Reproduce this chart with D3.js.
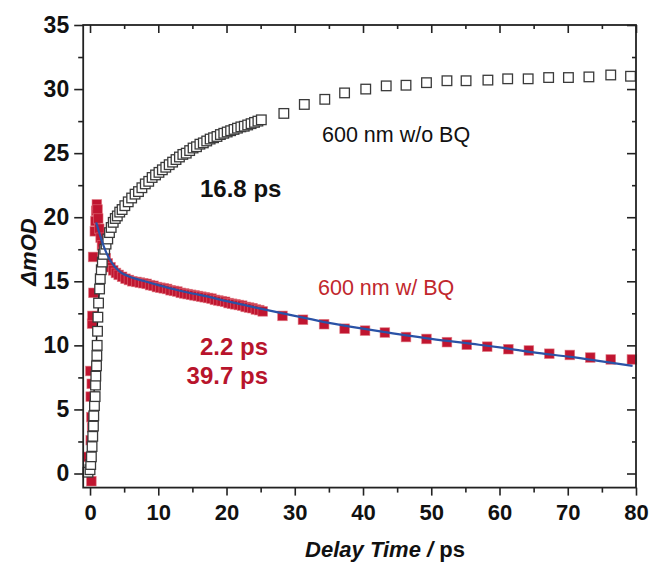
<!DOCTYPE html>
<html>
<head>
<meta charset="utf-8">
<script src="https://cdn.jsdelivr.net/npm/d3@7"></script>
<style>
  html, body { margin: 0; padding: 0; background: #fff; }
  svg { display: block; }
  text { font-family: "Liberation Sans", Arial, sans-serif; }
</style>
</head>
<body>
<svg id="chart" width="650" height="562"></svg>
<script>
// Transient absorption kinetics at 600 nm (ΔmOD vs delay time in ps)

// 600 nm without BQ (open squares)
const woBqTime = [
  -0.3, 0.0, 0.1, 0.2, 0.3, 0.4, 0.5, 0.55, 0.65, 0.75, 0.8, 0.85, 0.95, 1.0, 1.05, 1.1, 1.15,
  1.25, 1.4, 1.5, 1.65, 1.8, 1.95, 2.15, 2.35, 2.6, 2.85, 3.1, 3.4, 3.7, 4.0, 4.35, 4.7,
  5.1, 5.6, 6.1, 6.6, 7.1, 7.6, 8.1, 8.6, 9.1, 9.6, 10.1, 10.6, 11.1, 11.6, 12.1, 12.6,
  13.1, 13.6, 14.1, 14.6, 15.1, 15.6, 16.1, 16.6, 17.1, 17.6, 18.1, 18.6, 19.1, 19.6,
  20.1, 20.6, 21.1, 21.6, 22.1, 22.6, 23.1, 23.6, 24.1, 24.6, 25.1,
  28.4, 31.4, 34.4, 37.3, 40.4, 43.4, 46.3, 49.3, 52.3, 55.1, 58.3, 61.2, 64.2, 67.2,
  70.1, 73.1, 76.3, 79.2
];
const woBqDelta = [
  0.1, 0.3, 0.7, 1.3, 2.1, 2.9, 3.7, 4.5, 5.3, 6.0, 6.9, 7.6, 8.4, 9.2, 10.0, 11.1, 12.2,
  13.3, 14.4, 15.2, 15.9, 16.5, 17.1, 17.5, 17.9, 18.3, 18.8, 19.2, 19.6, 19.9, 20.1, 20.4, 20.6,
  20.9, 21.2, 21.5, 21.8, 22.0, 22.3, 22.6, 22.8, 23.1, 23.3, 23.5, 23.7, 23.9, 24.1, 24.3, 24.5,
  24.7, 24.9, 25.0, 25.2, 25.4, 25.5, 25.7, 25.8, 25.95, 26.1, 26.2, 26.3, 26.45, 26.55,
  26.65, 26.75, 26.85, 26.95, 27.05, 27.1, 27.2, 27.3, 27.4, 27.5, 27.6,
  28.1, 28.8, 29.2, 29.7, 30.0, 30.25, 30.3, 30.5, 30.65, 30.65, 30.7, 30.8, 30.8, 30.9,
  30.9, 30.95, 31.1, 31.0
];

// 600 nm with BQ (filled squares)
const wBqTime = [
  0.2, -0.3, 0.1, 0.3, 0.2, 0.1, 0.25, 0.05, 0.3, 0.35, 0.5, 0.45, 0.7, 0.8, 0.9, 1.0,
  1.1, 1.2, 1.35, 1.55, 1.75, 2.0, 2.3, 2.6, 3.0, 3.4, 3.8, 4.2, 4.7,
  5.2, 5.7, 6.2, 6.8, 7.3, 7.8, 8.3, 8.8, 9.3, 9.8, 10.3, 10.8, 11.3, 11.8, 12.3, 12.8,
  13.3, 13.8, 14.3, 14.8, 15.3, 15.8, 16.3, 16.8, 17.3, 17.8, 18.3, 18.8, 19.3, 19.8,
  20.3, 20.8, 21.3, 21.8, 22.3, 22.8, 23.3, 23.8, 24.3, 24.8, 25.3,
  28.2, 31.2, 34.3, 37.3, 40.3, 43.2, 46.3, 49.3, 52.3, 55.2, 58.2, 61.3, 64.3, 67.3,
  70.3, 73.3, 76.3, 79.4
];
const wBqDelta = [
  -0.6, 1.3, 2.6, 3.6, 4.4, 6.0, 7.0, 8.0, 11.7, 12.3, 14.1, 16.9, 18.9, 19.7, 20.5, 21.0,
  20.6, 19.9, 19.1, 18.4, 17.8, 17.3, 16.8, 16.4, 16.1, 15.85, 15.65, 15.5, 15.35,
  15.2, 15.1, 15.0, 14.95, 14.9, 14.85, 14.8, 14.7, 14.65, 14.55, 14.5, 14.45, 14.4, 14.3, 14.25, 14.2,
  14.1, 14.05, 14.0, 13.95, 13.9, 13.85, 13.8, 13.75, 13.7, 13.65, 13.55, 13.5, 13.45, 13.4,
  13.3, 13.25, 13.2, 13.15, 13.1, 13.0, 12.95, 12.9, 12.8, 12.75, 12.65,
  12.3, 12.0, 11.65, 11.3, 11.15, 11.0, 10.65, 10.5, 10.25, 10.05, 9.9, 9.7, 9.6, 9.35,
  9.25, 9.05, 8.9, 8.9
];

// Fitted curves
const fitWoBqTime  = [-1.0, -0.5, -0.2, 0.1, 0.4, 0.7, 1.0, 1.3, 1.6, 2.0, 2.5, 3.0, 4.0, 5.0, 6.5, 8.0, 10, 12.5, 15, 18, 21, 25];
const fitWoBqDelta = [0.0, 0.1, 0.6, 1.8, 4.2, 7.6, 11.0, 13.8, 15.7, 17.0, 18.0, 18.8, 19.9, 20.8, 21.8, 22.6, 23.5, 24.5, 25.3, 26.2, 26.8, 27.5];
const fitWBqTime  = [0.9, 1.3, 1.7, 2.1, 2.5, 3.0, 3.6, 4.5, 5.6, 7, 8, 10, 12.9, 15, 17.3, 20, 23, 26, 30, 35, 40, 43, 50, 57, 60.6, 65, 70.4, 75, 79.5];
const fitWBqDelta = [19.6, 18.9, 18.2, 17.6, 17.1, 16.6, 16.15, 15.7, 15.4, 15.15, 15.0, 14.7, 14.3, 14.05, 13.8, 13.45, 13.1, 12.75, 12.3, 11.75, 11.3, 11.05, 10.5, 10.05, 9.8, 9.45, 9.1, 8.75, 8.4];

// Axis ticks
const xTicks = [0, 10, 20, 30, 40, 50, 60, 70, 80];
const xMinorTicks = [5, 15, 25, 35, 45, 55, 65, 75];
const yTicks = [0, 5, 10, 15, 20, 25, 30, 35];
const yMinorTicks = [2.5, 7.5, 12.5, 17.5, 22.5, 27.5, 32.5];

const svg = d3.select("#chart");
const frameL = 83.2, frameR = 636, frameT = 25, frameB = 487.6;

const x = d3.scaleLinear().domain([-1, 80]).range([frameL, frameR]);
const y = d3.scaleLinear().domain([-1.1, 35]).range([frameB, frameT]);

const zip = (a, b) => a.map((v, i) => [v, b[i]]);
const woBq = zip(woBqTime, woBqDelta);
const wBq = zip(wBqTime, wBqDelta);

const line = d3.line().x(d => x(d[0])).y(d => y(d[1])).curve(d3.curveMonotoneX);

const plot = svg.append("g");
svg.append("clipPath").attr("id", "clip")
  .append("rect").attr("x", frameL - 6).attr("y", frameT).attr("width", frameR - frameL + 12).attr("height", frameB - frameT + 6);

// filled squares (with BQ)
const red = "#c01530";
const sq = 9.6;
plot.append("g").attr("clip-path", "url(#clip)")
  .selectAll("rect").data(wBq).join("rect")
  .attr("x", d => x(d[0]) - sq / 2).attr("y", d => y(d[1]) - sq / 2)
  .attr("width", sq).attr("height", sq)
  .attr("fill", red).attr("stroke", "#e0707a").attr("stroke-width", 0.8).attr("stroke-opacity", 0.7);

// fit without BQ
plot.append("path").datum(zip(fitWoBqTime, fitWoBqDelta))
  .attr("d", line).attr("fill", "none").attr("stroke", "#111").attr("stroke-width", 1.5);

// open squares (without BQ)
const osq = 9.6;
plot.append("g").attr("clip-path", "url(#clip)")
  .selectAll("rect").data(woBq).join("rect")
  .attr("x", d => x(d[0]) - osq / 2).attr("y", d => y(d[1]) - osq / 2)
  .attr("width", osq).attr("height", osq)
  .attr("fill", "#fff").attr("stroke", "#3a3a3a").attr("stroke-width", 1.3);

// fit with BQ
plot.append("path").datum(zip(fitWBqTime, fitWBqDelta))
  .attr("d", line).attr("fill", "none").attr("stroke", "#2a52a6").attr("stroke-width", 2.2);

// Frame and ticks
const axisColor = "#222";
function styleAxis(g) {
  g.select(".domain").remove();
  g.selectAll(".tick line").attr("stroke", axisColor).attr("stroke-width", 1.6);
}
const fontAxis = '"Liberation Sans", Arial, sans-serif';

// bottom (outward) with labels
svg.append("g").attr("transform", `translate(0,${frameB})`)
  .call(d3.axisBottom(x).tickValues(xTicks).tickSize(8).tickPadding(9).tickFormat(d3.format("d")))
  .call(styleAxis)
  .call(g => g.selectAll("text").attr("font-family", fontAxis).attr("font-size", 22)
    .attr("font-weight", "bold").attr("fill", "#111"));
svg.append("g").attr("transform", `translate(0,${frameB})`)
  .call(d3.axisBottom(x).tickValues(xMinorTicks).tickSize(5).tickFormat(""))
  .call(styleAxis);

// top (inward)
svg.append("g").attr("transform", `translate(0,${frameT})`)
  .call(d3.axisBottom(x).tickValues(xTicks).tickSize(8).tickFormat(""))
  .call(styleAxis);
svg.append("g").attr("transform", `translate(0,${frameT})`)
  .call(d3.axisBottom(x).tickValues(xMinorTicks).tickSize(4).tickFormat(""))
  .call(styleAxis);

// left (outward) with labels
svg.append("g").attr("transform", `translate(${frameL},0)`)
  .call(d3.axisLeft(y).tickValues(yTicks).tickSize(9).tickPadding(5).tickFormat(d3.format("d")))
  .call(styleAxis)
  .call(g => g.selectAll("text").attr("font-family", fontAxis).attr("font-size", 23)
    .attr("font-weight", "bold").attr("fill", "#111"));
svg.append("g").attr("transform", `translate(${frameL},0)`)
  .call(d3.axisLeft(y).tickValues(yMinorTicks).tickSize(5).tickFormat(""))
  .call(styleAxis);

// right (inward)
svg.append("g").attr("transform", `translate(${frameR},0)`)
  .call(d3.axisLeft(y).tickValues(yTicks).tickSize(9).tickFormat(""))
  .call(styleAxis);
svg.append("g").attr("transform", `translate(${frameR},0)`)
  .call(d3.axisLeft(y).tickValues(yMinorTicks).tickSize(4).tickFormat(""))
  .call(styleAxis);

svg.append("rect").attr("x", frameL).attr("y", frameT)
  .attr("width", frameR - frameL).attr("height", frameB - frameT)
  .attr("fill", "none").attr("stroke", axisColor).attr("stroke-width", 1.8);

// Axis titles
svg.append("text")
  .attr("transform", "translate(36,252) rotate(-90)")
  .attr("text-anchor", "middle")
  .attr("font-size", 22).attr("font-weight", "bold").attr("font-style", "italic").attr("fill", "#111")
  .text("ΔmOD");

const xt = svg.append("text").attr("x", 385).attr("y", 557)
  .attr("text-anchor", "middle").attr("font-size", 22).attr("font-weight", "bold").attr("fill", "#111");
xt.append("tspan").attr("font-style", "italic").text("Delay Time /");
xt.append("tspan").text(" ps");

// Annotations
svg.append("text").attr("x", 322).attr("y", 141.5)
  .attr("font-size", 21.5).attr("fill", "#111").text("600 nm w/o BQ");
svg.append("text").attr("x", 200).attr("y", 197)
  .attr("font-size", 24).attr("font-weight", "bold").attr("fill", "#111").text("16.8 ps");
svg.append("text").attr("x", 318).attr("y", 295)
  .attr("font-size", 21.5).attr("fill", "#c1272d").text("600 nm w/ BQ");
svg.append("text").attr("x", 268).attr("y", 355).attr("text-anchor", "end")
  .attr("font-size", 24).attr("font-weight", "bold").attr("fill", "#b8142c").text("2.2 ps");
svg.append("text").attr("x", 268).attr("y", 383.5).attr("text-anchor", "end")
  .attr("font-size", 24).attr("font-weight", "bold").attr("fill", "#b8142c").text("39.7 ps");
</script>
</body>
</html>
